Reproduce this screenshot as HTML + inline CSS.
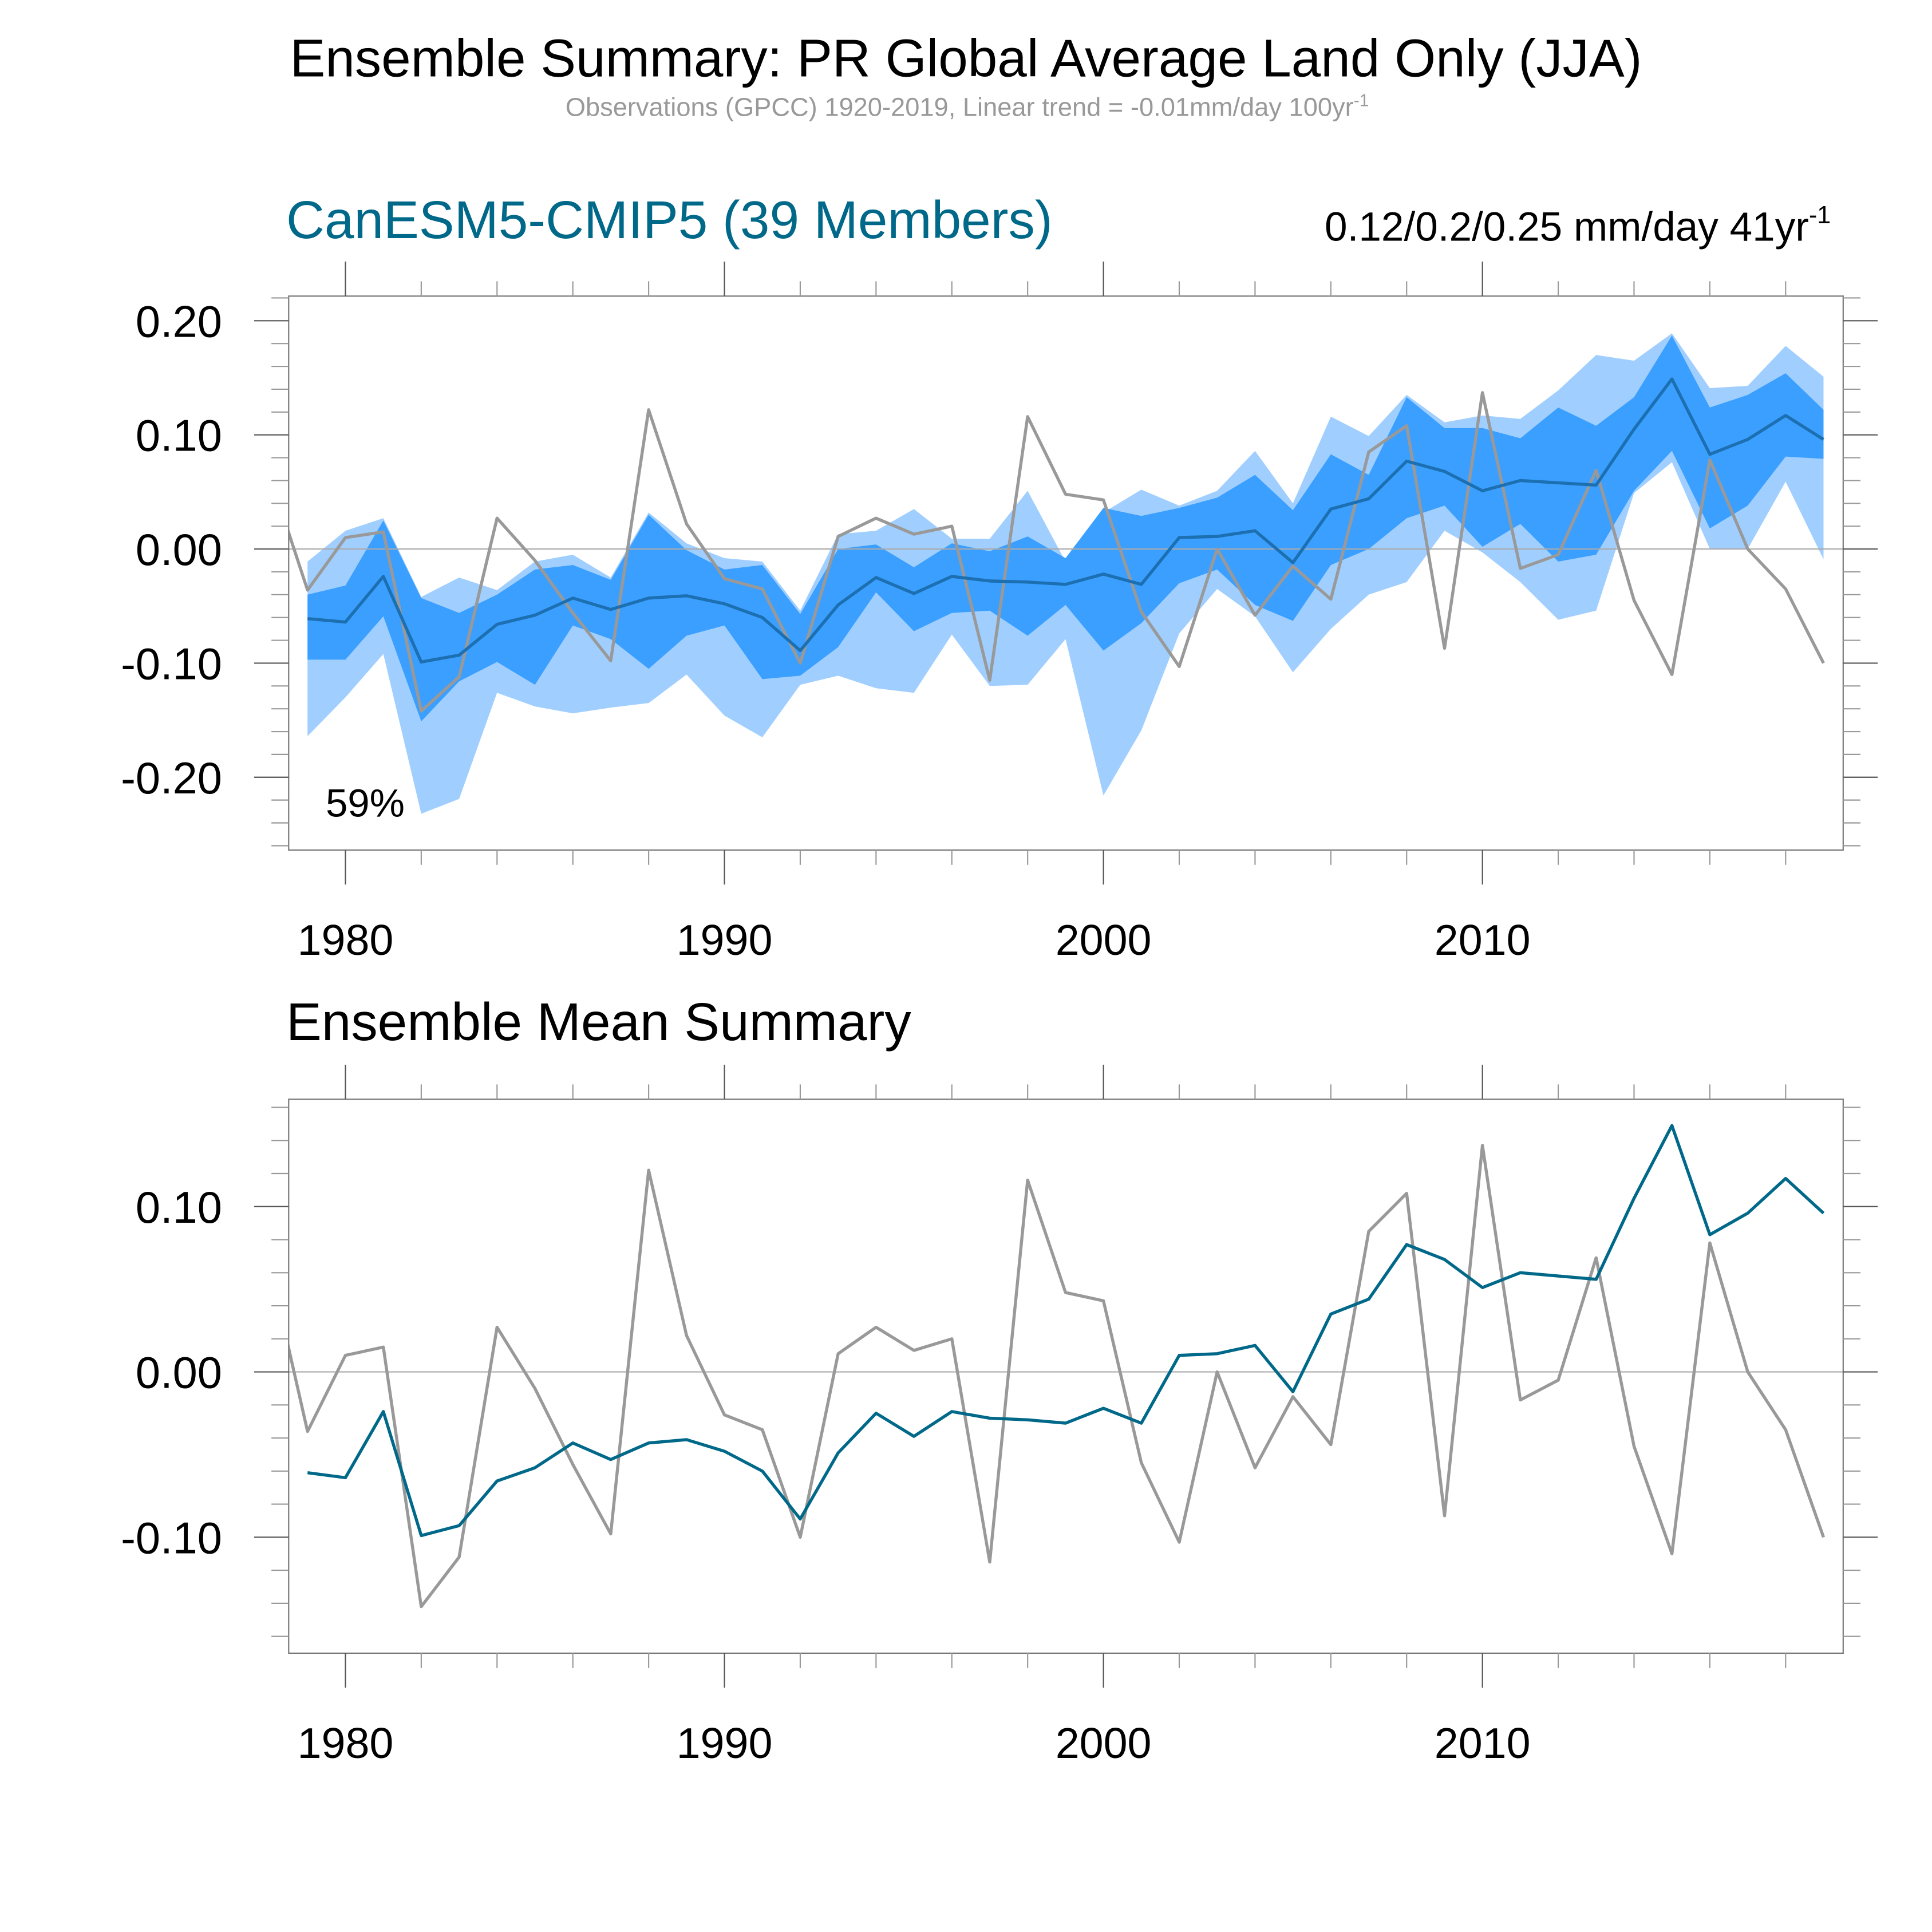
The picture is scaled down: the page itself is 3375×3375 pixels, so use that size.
<!DOCTYPE html>
<html><head><meta charset="utf-8">
<style>html,body{margin:0;padding:0;background:#fff}svg{display:block}text{font-family:"Liberation Sans",sans-serif}</style>
</head><body>
<svg id="chart" xmlns="http://www.w3.org/2000/svg" width="3375" height="3375" viewBox="0 0 1566 1566">
<text x="783" y="62" font-size="43" text-anchor="middle" fill="#000">Ensemble Summary: PR Global Average Land Only (JJA)</text>
<text x="784" y="94" font-size="21" text-anchor="middle" fill="#999">Observations (GPCC) 1920-2019, Linear trend = -0.01mm/day 100yr<tspan dy="-8" font-size="14">-1</tspan></text>
<text x="232" y="193" font-size="43" fill="#006888">CanESM5-CMIP5 (39 Members)</text>
<text x="1484" y="195" font-size="33" text-anchor="end" fill="#000">0.12/0.2/0.25 mm/day 41yr<tspan dy="-14" font-size="20">-1</tspan></text>
<text x="264" y="662" font-size="32" fill="#000">59%</text>
<text x="232" y="843" font-size="43" fill="#000">Ensemble Mean Summary</text>
<g id="top"></g>
<g id="bot"></g>
</svg>
<script>
const years = [1978,1979,1980,1981,1982,1983,1984,1985,1986,1987,1988,1989,1990,1991,1992,1993,1994,1995,1996,1997,1998,1999,2000,2001,2002,2003,2004,2005,2006,2007,2008,2009,2010,2011,2012,2013,2014,2015,2016,2017,2018,2019];
const obs = [0.065,-0.036,0.010,0.015,-0.142,-0.112,0.027,-0.010,-0.056,-0.098,0.122,0.022,-0.026,-0.035,-0.100,0.011,0.027,0.013,0.020,-0.115,0.116,0.048,0.043,-0.055,-0.103,0.000,-0.058,-0.015,-0.044,0.085,0.108,-0.087,0.137,-0.017,-0.005,0.069,-0.045,-0.110,0.078,0.000,-0.035,-0.100];
const ensYears = years.slice(1);
const ensMean = [-0.061,-0.064,-0.024,-0.099,-0.093,-0.066,-0.058,-0.043,-0.053,-0.043,-0.041,-0.048,-0.060,-0.089,-0.049,-0.025,-0.039,-0.024,-0.028,-0.029,-0.031,-0.022,-0.031,0.010,0.011,0.016,-0.012,0.035,0.044,0.077,0.068,0.051,0.060,0.058,0.056,0.105,0.149,0.083,0.096,0.117,0.096];
const lightUpper = [-0.011,0.016,0.027,-0.042,-0.025,-0.036,-0.011,-0.005,-0.025,0.032,0.005,-0.008,-0.011,-0.054,0.013,0.016,0.035,0.009,0.009,0.051,-0.011,0.032,0.052,0.038,0.051,0.086,0.040,0.116,0.099,0.135,0.111,0.117,0.114,0.139,0.170,0.165,0.189,0.141,0.143,0.178,0.151];
const lightLower = [-0.164,-0.130,-0.092,-0.232,-0.219,-0.126,-0.138,-0.144,-0.139,-0.135,-0.110,-0.146,-0.165,-0.119,-0.111,-0.122,-0.126,-0.075,-0.120,-0.119,-0.079,-0.216,-0.159,-0.074,-0.035,-0.059,-0.108,-0.070,-0.040,-0.029,0.016,-0.003,-0.029,-0.062,-0.054,0.049,0.076,0.000,0.000,0.059,-0.009];
const darkUpper = [-0.040,-0.032,0.025,-0.043,-0.056,-0.040,-0.018,-0.014,-0.027,0.030,-0.001,-0.018,-0.014,-0.057,0.000,0.004,-0.016,0.005,-0.002,0.011,-0.008,0.036,0.029,0.036,0.045,0.065,0.034,0.083,0.065,0.133,0.106,0.106,0.097,0.124,0.108,0.133,0.187,0.124,0.135,0.154,0.122];
const darkLower = [-0.097,-0.097,-0.059,-0.151,-0.116,-0.099,-0.119,-0.067,-0.079,-0.105,-0.076,-0.067,-0.114,-0.111,-0.086,-0.038,-0.072,-0.056,-0.054,-0.076,-0.049,-0.089,-0.065,-0.030,-0.018,-0.049,-0.063,-0.014,0.000,0.027,0.038,0.002,0.022,-0.011,-0.005,0.051,0.086,0.018,0.038,0.081,0.079];
const topYTicks = ["-0.20","-0.10","0.00","0.10","0.20"];
const botYTicks = ["-0.10","0.00","0.10"];
const xTickLabels = ["1980","1990","2000","2010"];

const NS="http://www.w3.org/2000/svg";
function mk(parent,tag,attrs){const e=document.createElementNS(NS,tag);for(const k in attrs)e.setAttribute(k,attrs[k]);parent.appendChild(e);return e;}
const X0=234,X1=1494;
function xs(yr){return 280+(yr-1980)*30.72;}

function panel(g,id,top,bot,y0,pxPer,vmin,vmax,ticks,xlabY,bands,meanColor){
  const ys=v=>y0-v*pxPer;
  const clip=mk(g,'clipPath',{id:'c'+id});
  mk(clip,'rect',{x:X0,y:top,width:X1-X0,height:bot-top});
  const inner=mk(g,'g',{'clip-path':'url(#c'+id+')'});
  if(bands){
    const poly=(up,lo,fill,name)=>{
      let pts=ensYears.map((y,i)=>xs(y)+','+ys(up[i]));
      pts=pts.concat(ensYears.map((y,i)=>xs(y)+','+ys(lo[i])).reverse());
      const p=mk(inner,'polygon',{points:pts.join(' '),fill:fill});
      
      
    };
    poly(lightUpper,lightLower,'#a0cfff','spread-band-light');
    poly(darkUpper,darkLower,'#3a9fff','spread-band-dark');
  }
  const zl=mk(inner,'line',{x1:X0,x2:X1,y1:ys(0),y2:ys(0),stroke:'#aaa','stroke-width':1});
  
  
  const ol=mk(inner,'polyline',{points:years.map((y,i)=>xs(y)+','+ys(obs[i])).join(' '),fill:'none',stroke:'#999','stroke-width':2.5,'stroke-linejoin':'round'});
  
  
  const ml=mk(inner,'polyline',{points:ensYears.map((y,i)=>xs(y)+','+ys(ensMean[i])).join(' '),fill:'none',stroke:meanColor,'stroke-width':2.5,'stroke-linejoin':'round'});
  
  
  const fr=mk(g,'rect',{x:X0,y:top,width:X1-X0,height:bot-top,fill:'none',stroke:'#777','stroke-width':1});
  
  
  for(let k=Math.ceil(vmin/0.02);k*0.02<=vmax+1e-9;k++){
    const v=k*0.02,y=ys(v),maj=(k%5===0);
    const L=maj?28:14;
    mk(g,'line',{x1:X0-L,x2:X0,y1:y,y2:y,stroke:maj?'#555':'#999','stroke-width':1});
    mk(g,'line',{x1:X1,x2:X1+L,y1:y,y2:y,stroke:maj?'#555':'#999','stroke-width':1});
  }
  ticks.forEach(t=>{const e=mk(g,'text',{x:180,y:ys(parseFloat(t))+13,'font-size':36,'text-anchor':'end',fill:'#000'});e.textContent=t;
    
    });
  for(let yr=1980;yr<=2018;yr+=2){
    const x=xs(yr),maj=(yr%10===0),L=maj?28:12;
    mk(g,'line',{x1:x,x2:x,y1:top-L,y2:top,stroke:maj?'#555':'#999','stroke-width':1});
    mk(g,'line',{x1:x,x2:x,y1:bot,y2:bot+L,stroke:maj?'#555':'#999','stroke-width':1});
  }
  xTickLabels.forEach(t=>{const e=mk(g,'text',{x:xs(parseInt(t)),y:xlabY,'font-size':35,'text-anchor':'middle',fill:'#000'});e.textContent=t;
    
    });
}
panel(document.getElementById('top'),'t',240,689,445,925,-0.26,0.22,topYTicks,774,true,'#1c6fb0');
panel(document.getElementById('bot'),'b',891,1340,1112,1340,-0.16,0.16,botYTicks,1425,false,'#006888');
</script>
</body></html>
